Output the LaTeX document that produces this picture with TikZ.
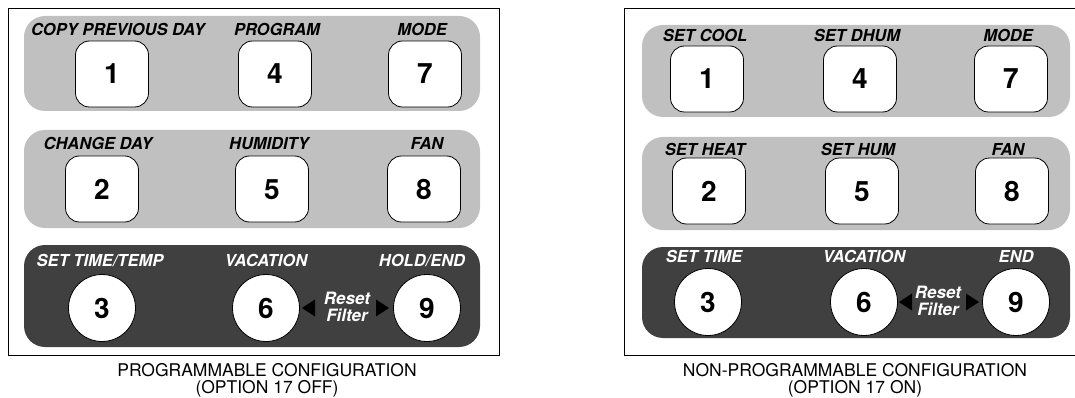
\documentclass[tikz,border=0pt]{standalone}
\usepackage{fontspec}
\setmainfont{TeX Gyre Heros}
\definecolor{lightgrp}{RGB}{192,192,192}
\definecolor{darkgrp}{RGB}{64,64,64}
\tikzset{
  frame/.style={draw=black, line width=0.8pt},
  grp/.style={fill=lightgrp, rounded corners=21pt},
  dgrp/.style={fill=darkgrp, rounded corners=21pt},
  key/.style={draw=black, fill=white, line width=0.8pt, rounded corners=14pt,
    minimum width=73pt, minimum height=66pt, inner sep=0pt,
    font=\fontsize{28}{28}\selectfont\bfseries, text height=20pt, text depth=0pt},
  rkey/.style={circle, draw=black, fill=white, line width=0.8pt,
    minimum size=67pt, inner sep=0pt,
    font=\fontsize{28}{28}\selectfont\bfseries, text height=20pt, text depth=0pt},
  lab/.style={inner sep=0pt, font=\fontsize{16.5}{17}\selectfont\bfseries\itshape,
    text height=11.5pt, text depth=0pt},
  wlab/.style={lab, text=white},
  rf/.style={inner sep=0pt, text=white, font=\fontsize{17}{17}\selectfont\bfseries\itshape,
    text height=12pt, text depth=0pt},
  capt/.style={inner sep=0pt, font=\fontsize{17.5}{18}\selectfont,
    text height=12.5pt, text depth=0pt},
}
\begin{document}
\begin{tikzpicture}[x=1pt,y=-1pt]
\useasboundingbox (0,0) rectangle (1075,398);

% ---------------- left panel ----------------
\draw[frame] (8,8) rectangle (499,355);
\fill[grp]  (24,16)  rectangle (480,111);
\fill[grp]  (24,130) rectangle (480,228);
\fill[dgrp] (24,245) rectangle (480,347);

\node[key] (a1) at (112,74) {1};
\node[key] (a4) at (275,74) {4};
\node[key] (a7) at (425,74) {7};
\node[key] (a2) at (102,189) {2};
\node[key] (a5) at (272,189) {5};
\node[key] (a8) at (424,189) {8};
\node[rkey] (a3) at (102,308) {3};
\node[rkey] (a6) at (266,308) {6};
\node[rkey] (a9) at (427,308) {9};

\node[lab] (la1) at (118,30) {COPY PREVIOUS DAY};
\node[lab] (la4) at (277,30) {PROGRAM};
\node[lab] (la7) at (422,30) {MODE};
\node[lab] (la2) at (98,144) {CHANGE DAY};
\node[lab] (la5) at (269,144) {HUMIDITY};
\node[lab] (la8) at (427,144) {FAN};
\node[wlab] (la3) at (100,261) {SET TIME/TEMP};
\node[wlab] (la6) at (266,261) {VACATION};
\node[wlab] (la9) at (422,261) {HOLD/END};

\node[rf] (ra) at (347,298) {Reset};
\node[rf] (fa) at (347,315) {Filter};
\coordinate (tla) at (302,308);
\coordinate (tra) at (389,308);
\fill[black] (tla) -- ++(13,-8.5) -- ++(0,17) -- cycle;
\fill[black] (tra) -- ++(-13,-8.5) -- ++(0,17) -- cycle;

\node[capt] (ca1) at (267,370) {PROGRAMMABLE CONFIGURATION};
\node[capt] (ca2) at (267,387) {(OPTION 17 OFF)};

% ---------------- right panel ----------------
\draw[frame] (1077,8) -- (624,8) -- (624,355) -- (1077,355);
\fill[grp]  (642,25)  rectangle (1070,117);
\fill[grp]  (642,137) rectangle (1070,230);
\fill[dgrp] (642,247) rectangle (1070,338);

\node[key] (b1) at (707,79) {1};
\node[key] (b4) at (860,79) {4};
\node[key] (b7) at (1011,79) {7};
\node[key] (b2) at (709,191) {2};
\node[key] (b5) at (862,191) {5};
\node[key] (b8) at (1012,191) {8};
\node[rkey] (b3) at (708,302) {3};
\node[rkey] (b6) at (864,302) {6};
\node[rkey] (b9) at (1016,302) {9};

\node[lab] (lb1) at (705,36) {SET COOL};
\node[lab] (lb4) at (857,36) {SET DHUM};
\node[lab] (lb7) at (1008,36) {MODE};
\node[lab] (lb2) at (705,150) {SET HEAT};
\node[lab] (lb5) at (858,150) {SET HUM};
\node[lab] (lb8) at (1008,150) {FAN};
\node[wlab] (lb3) at (704,257) {SET TIME};
\node[wlab] (lb6) at (864,257) {VACATION};
\node[wlab] (lb9) at (1016,257) {END};

\node[rf] (rb) at (938,292) {Reset};
\node[rf] (fb) at (938,309) {Filter};
\coordinate (tlb) at (899,302);
\coordinate (trb) at (979,302);
\fill[black] (tlb) -- ++(13,-8.5) -- ++(0,17) -- cycle;
\fill[black] (trb) -- ++(-13,-8.5) -- ++(0,17) -- cycle;

\node[capt] (cb1) at (855,370) {NON-PROGRAMMABLE CONFIGURATION};
\node[capt] (cb2) at (855,387) {(OPTION 17 ON)};
\end{tikzpicture}
\end{document}
